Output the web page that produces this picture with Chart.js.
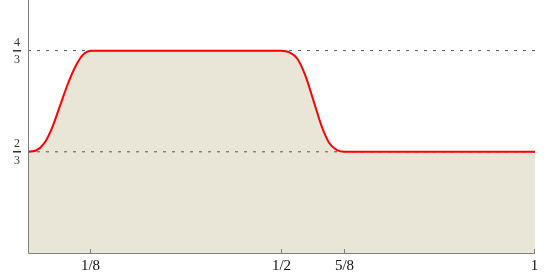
<!DOCTYPE html>
<html>
<head>
<meta charset="utf-8">
<script src="https://cdn.jsdelivr.net/npm/chart.js@4/dist/chart.umd.min.js"></script>
<style>
  html, body { margin: 0; padding: 0; background: #fff; }
  #wrap { width: 550px; height: 275px; }
</style>
</head>
<body>
<div id="wrap"><canvas id="c" width="550" height="275"></canvas></div>
<script>
// curve
const xValues = [0, 0.0156, 0.0313, 0.0469, 0.0625, 0.0781, 0.0938, 0.1094, 0.125,
                 0.5, 0.5156, 0.5313, 0.5469, 0.5625, 0.5781, 0.5938, 0.6094, 0.625, 1];
const yValues = [0.667, 0.675, 0.72, 0.82, 0.964, 1.11, 1.23, 1.31, 1.333,
                 1.333, 1.322, 1.28, 1.17, 1.01, 0.845, 0.726, 0.678, 0.667, 0.667];

// dotted reference levels and axis ticks
const levels = [2 / 3, 4 / 3];
const levelLabels = [['2', '3'], ['4', '3']];
const xTicks = [0.125, 0.5, 0.625, 1];
const xTickLabels = ['1/8', '1/2', '5/8', '1'];

const xRange = [0, 1];
const yRange = [0, 5 / 3];

const points = xValues.map((x, i) => ({ x: x, y: yValues[i] }));

const levelSets = levels.map((v) => ({
    data: [{ x: xRange[0], y: v }, { x: xRange[1], y: v }],
    borderColor: '#555',
    borderWidth: 1,
    borderDash: [3, 6],
    pointRadius: 0,
    fill: false
}));

// axes, inward ticks and stacked fraction labels
const axesPlugin = {
    id: 'axesDraw',
    afterDraw: (chart) => {
        const ctx = chart.ctx;
        const xs = chart.scales.x;
        const ys = chart.scales.y;
        const area = chart.chartArea;
        ctx.save();
        ctx.strokeStyle = '#808080';
        ctx.lineWidth = 1;
        ctx.beginPath();
        ctx.moveTo(area.left + 0.5, area.top);
        ctx.lineTo(area.left + 0.5, area.bottom + 0.5);
        ctx.lineTo(area.right, area.bottom + 0.5);
        ctx.stroke();

        ctx.fillStyle = '#111';
        ctx.font = '15px "Liberation Serif", serif';
        ctx.textAlign = 'center';
        ctx.textBaseline = 'middle';
        xTicks.forEach((t, i) => {
            const px = Math.round(xs.getPixelForValue(t)) - 0.5;
            ctx.beginPath();
            ctx.moveTo(px, area.bottom);
            ctx.lineTo(px, area.bottom - 4);
            ctx.stroke();
            ctx.fillText(xTickLabels[i], px, area.bottom + 13);
        });

        ctx.fillStyle = '#333';
        ctx.font = '12px "Liberation Serif", serif';
        levels.forEach((v, i) => {
            const py = ys.getPixelForValue(v);
            const cx = 17;
            ctx.fillText(levelLabels[i][0], cx, py - 8);
            ctx.fillText(levelLabels[i][1], cx, py + 9);
            ctx.fillRect(cx - 4, Math.round(py) - 1, 8, 1.5);
        });
        ctx.restore();
    }
};

new Chart(document.getElementById('c').getContext('2d'), {
    type: 'line',
    data: {
        datasets: [
            {
                data: points,
                borderColor: '#ff0000',
                borderWidth: 2,
                backgroundColor: 'rgb(234, 230, 215)',
                fill: 'origin',
                pointRadius: 0,
                cubicInterpolationMode: 'monotone'
            },
            ...levelSets
        ]
    },
    options: {
        responsive: false,
        animation: false,
        layout: { padding: { left: 28, right: 15, top: 0, bottom: 22 } },
        scales: {
            x: { type: 'linear', min: xRange[0], max: xRange[1], display: false },
            y: { type: 'linear', min: yRange[0], max: yRange[1], display: false }
        },
        plugins: {
            legend: { display: false },
            tooltip: { enabled: false },
            filler: { drawTime: 'beforeDatasetsDraw' }
        }
    },
    plugins: [axesPlugin]
});
</script>
</body>
</html>
